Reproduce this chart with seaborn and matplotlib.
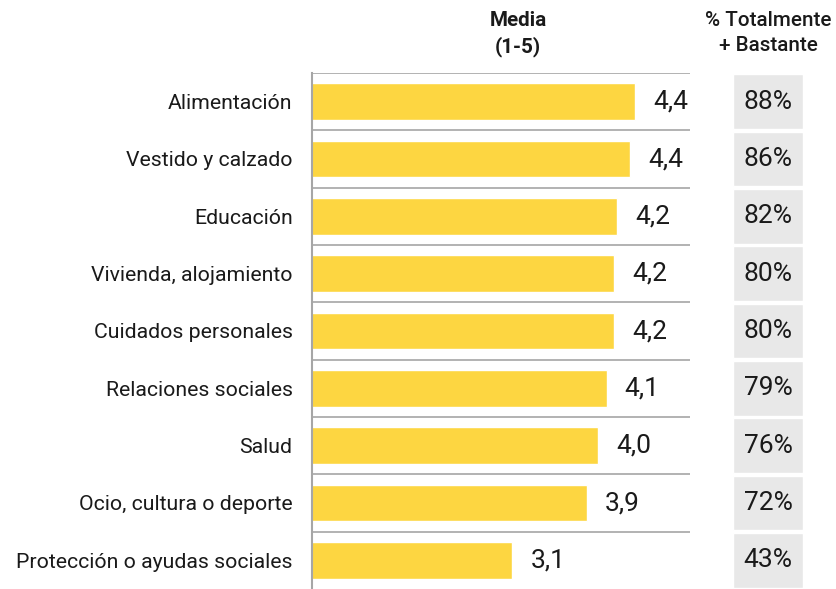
import pandas as pd
import seaborn as sns
import matplotlib.pyplot as plt

categorias = ['Alimentación', 'Vestido y calzado', 'Educación', 'Vivienda, alojamiento',
              'Cuidados personales', 'Relaciones sociales', 'Salud',
              'Ocio, cultura o deporte', 'Protección o ayudas sociales']
# means (labels shown rounded to one decimal)
media = [4.42, 4.37, 4.23, 4.20, 4.20, 4.12, 4.03, 3.91, 3.12]
pct_totalmente_bastante = [88, 86, 82, 80, 80, 79, 76, 72, 43]

df = pd.DataFrame({'Categoria': categorias, 'Media': media, 'Pct': pct_totalmente_bastante})

sns.set_theme(style='white')
plt.rcParams['font.family'] = ['Roboto', 'DejaVu Sans']
txt = '#1a1a1a'
gris = '#a6a6a6'

fig = plt.figure(figsize=(8.36, 5.89), dpi=100)
ax = fig.add_axes([312 / 836, 0, 378 / 836, 516 / 589])
ax2 = fig.add_axes([733 / 836, 0, 70 / 836, 516 / 589], sharey=ax)

# Main bars (scale 1-5)
sns.barplot(data=df, x='Media', y='Categoria', color='#fdd641', saturation=1,
            width=0.64, orient='h', ax=ax)
ax.set_xlim(1, 5)
ax.set_ylim(8.4, -0.5)
for i, v in enumerate(df['Media']):
    ax.text(v + 0.19, i, f'{v:.1f}'.replace('.', ','), va='center', ha='left',
            fontsize=19, color=txt)

ax.set_xlabel('')
ax.set_ylabel('')
ax.set_xticks([])
ax.set_yticks(range(len(categorias)))
ax.set_yticklabels(categorias, fontsize=15.3, color=txt)
ax.tick_params(axis='y', which='major', length=0, pad=14)
ax.set_yticks([i - 0.5 for i in range(len(categorias))], minor=True)
ax.tick_params(axis='y', which='minor', length=5, width=1.2, color=gris)
ax.grid(axis='y', which='minor', color=gris, linewidth=1.2)
ax.grid(axis='y', which='major', visible=False)
for s in ['top', 'right', 'bottom']:
    ax.spines[s].set_visible(False)
ax.spines['left'].set_color(gris)
ax.spines['left'].set_linewidth(1.5)

# Gray boxes with percentages
sns.barplot(data=df, x=[1] * len(df), y='Categoria', color='#e8e8e8', saturation=1,
            width=0.95, orient='h', ax=ax2)
ax2.set_xlim(0, 1)
for i, p in enumerate(df['Pct']):
    ax2.text(0.5, i, f'{p}%', va='center', ha='center', fontsize=19, color=txt)
ax2.axis('off')

fig.text(518 / 836, 1 - 11 / 589, 'Media\n(1-5)', ha='center', va='top',
         fontsize=14.9, fontweight='bold', color=txt, linespacing=1.38)
fig.text(768 / 836, 1 - 11 / 589, '% Totalmente\n+ Bastante', ha='center', va='top',
         fontsize=14.9, fontweight='medium', color=txt, linespacing=1.38)

plt.savefig('out.png', dpi=100)
